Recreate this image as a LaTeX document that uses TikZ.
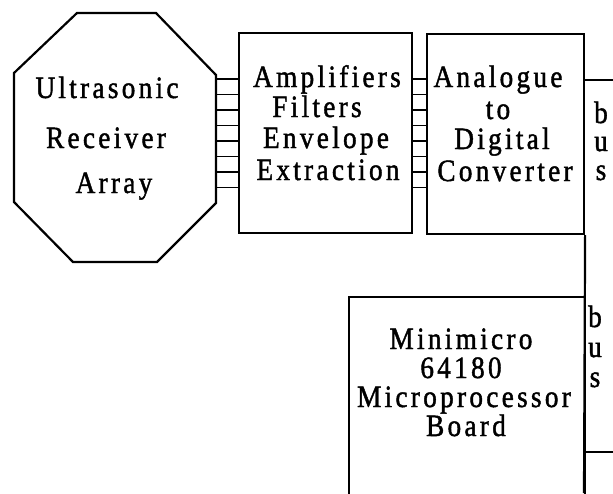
\documentclass[tikz,border=0pt]{standalone}
\usepackage{fontspec}
\usepackage{graphicx}
\newfontfamily\tw{Liberation Serif}[LetterSpace=12,FakeBold=1.5]
\newcommand\tx[1]{\scalebox{0.88}[1]{#1}}
\begin{document}
\begin{tikzpicture}[x=1pt,y=-1pt,
  blk/.style={draw,line width=2.2pt,rectangle,inner sep=0pt},
  rung/.style={line width=1.7pt},
  wire/.style={line width=2.2pt},
  lbl/.style={anchor=base,inner sep=0pt,font=\tw\fontsize{31}{34}\selectfont},
  bl/.style={anchor=base,inner sep=0pt,font=\tw\fontsize{31}{34}\selectfont}]
\clip (0,0) rectangle (613,493);
\fill[white] (0,0) rectangle (613,493);
% octagon
\draw[line width=2.2pt] (77,13) -- (156,13) -- (216,75) -- (216,203) -- (157,262) -- (73,262) -- (14,202) -- (14,73) -- cycle;
\coordinate (oe) at (216,130);
\node[lbl] (t1) at (107,98) {\tx{Ultrasonic}};
\node[lbl] (t2) at (106,148) {\tx{Receiver}};
\node[lbl] (t3) at (114,193) {\tx{Array}};
% boxes
\node[blk,minimum width=173,minimum height=200] (amp) at (325.5,133) {};
\node[blk,minimum width=157,minimum height=200] (adc) at (505.5,134) {};
\node[blk,minimum width=236,minimum height=260,anchor=north west] (mini) at (348,296) {};
% rungs
\foreach \i/\y in {1/79,2/94.5,3/110,4/125.5,5/141,6/156.5,7/172,8/187.5}{
  \coordinate (r\i) at (0,\y);
  \draw[rung] (oe |- r\i) -- (amp.west |- r\i);
  \draw[rung] (amp.east |- r\i) -- (adc.west |- r\i);
}
% bus
\coordinate (busend) at (584,493);
\coordinate (busA) at (613,80);
\coordinate (busB) at (613,452);
\draw[wire] (adc.south east) -- (busend);
\draw[wire] (adc.east |- busA) -- (busA);
\draw[wire] (adc.east |- busB) -- (busB);
% texts
\node[lbl] (a1) at (327,87) {\tx{Amplifiers}};
\node[lbl] (a2) at (317,117) {\tx{Filters}};
\node[lbl] (a3) at (326,148) {\tx{Envelope}};
\node[lbl] (a4) at (328,180) {\tx{Extraction}};
\node[lbl] (d1) at (498,87) {\tx{Analogue}};
\node[lbl] (d2) at (498,119) {\tx{to}};
\node[lbl] (d3) at (502,149) {\tx{Digital}};
\node[lbl] (d4) at (505,181) {\tx{Converter}};
\node[lbl] (m1) at (461,349) {\tx{Minimicro}};
\node[lbl] (m2) at (461,378) {\tx{64180}};
\node[lbl] (m3) at (464,407) {\tx{Microprocessor}};
\node[lbl] (m4) at (466,436) {\tx{Board}};
\node[bl] (b1) at (601,123) {\tx{b}};
\node[bl] (b2) at (601,151) {\tx{u}};
\node[bl] (b3) at (601,180) {\tx{s}};
\node[bl] (c1) at (595,327) {\tx{b}};
\node[bl] (c2) at (595,357) {\tx{u}};
\node[bl] (c3) at (595,387) {\tx{s}};
\end{tikzpicture}
\end{document}
